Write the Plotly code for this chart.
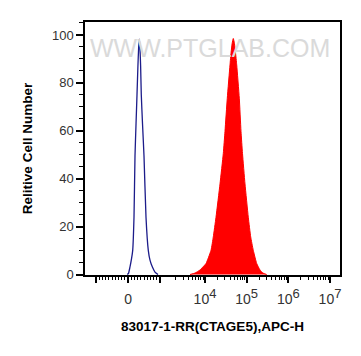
import math
import plotly.graph_objects as go

# Display axis: position in "decade units" (10^4 -> 4, 10^5 -> 5 ...), biexponential near zero
blue_x = [2.135, 2.164, 2.200, 2.236, 2.265, 2.296, 2.320, 2.345, 2.368, 2.390, 2.408, 2.423,
          2.438, 2.455, 2.471, 2.500, 2.536, 2.584, 2.639, 2.680, 2.735, 2.800, 2.872]
blue_y = [0, 0.5, 3.2, 6.5, 10.1, 23.9, 49.5, 63, 75, 87, 95, 98.2,
          95, 87, 75, 63, 49.5, 23.9, 10.1, 6, 3.2, 1, 0]

red_x = [3.640, 3.760, 3.880, 3.952, 4.024, 4.144, 4.199, 4.264, 4.360, 4.439, 4.480, 4.535,
         4.600, 4.625, 4.652, 4.679, 4.706, 4.733, 4.761, 4.823, 4.864, 4.900, 4.960, 5.039,
         5.097, 5.159, 5.241, 5.320, 5.392, 5.481]
red_y = [0, 0.6, 1.9, 3.2, 4.6, 10.1, 15.7, 23.9, 37.8, 50.5, 59.8, 73.6,
         87.5, 92.5, 96.5, 98.5, 96.5, 92.5, 87.5, 73.6, 59.8, 50.5, 37.8, 23.9,
         15.7, 10.1, 4.6, 1.9, 0.6, 0]

x_major_vals = [1.386, 2.153, 2.920, 4, 5, 6, 7]
x_major_exp = ["", "", "", "4", "5", "6", "7"]
x_major_text = ["", "0", ""] + [
    "10<sup><span style='font-size:13px'>%s</span></sup>" % e for e in x_major_exp[3:]]
lin_step = (2.920 - 2.153) / 10
x_minor_vals = [2.153 + k * lin_step for k in range(-10, 11) if k not in (-10, 0, 10)]
x_minor_vals += [d + math.log10(m) for d in (3, 4, 5, 6) for m in range(2, 10)]

y_major_vals = [0, 20, 40, 60, 80, 100]
y_minor_vals = [5, 10, 15, 25, 30, 35, 45, 50, 55, 65, 70, 75, 85, 90, 95, 105]

fig = go.Figure()
fig.add_trace(go.Scatter(x=red_x, y=red_y, mode="lines", fill="tozeroy",
                         line=dict(color="#ff0000", width=1, shape="spline", smoothing=0.5),
                         fillcolor="#ff0000", hoverinfo="skip"))
fig.add_trace(go.Scatter(x=blue_x, y=blue_y, mode="lines",
                         line=dict(color="#1c1c8a", width=1.3, shape="spline", smoothing=0.5),
                         hoverinfo="skip"))

fig.add_annotation(text="WWW.PTGLAB.COM", xref="paper", yref="paper", x=0.49, y=0.962,
                   showarrow=False, font=dict(family="Liberation Sans", size=25, color="#dadada"))

fig.update_layout(
    width=353, height=348,
    margin=dict(l=77, r=21, t=12, b=81),
    paper_bgcolor="white", plot_bgcolor="white",
    showlegend=False,
    font=dict(family="Liberation Sans, Arial", color="#333333"),
    xaxis=dict(range=[1.12, 7.24], tickmode="array", tickvals=x_major_vals, ticktext=x_major_text,
               ticks="outside", ticklen=6, tickwidth=1.5, tickcolor="black",
               showline=True, linecolor="black", linewidth=1.5, mirror=True,
               showgrid=False, zeroline=False, ticklabelstandoff=4,
               tickfont=dict(size=14, color="#333333"),
               minor=dict(tickmode="array", tickvals=x_minor_vals, ticks="outside", ticklen=3,
                          tickwidth=1, tickcolor="black", showgrid=False),
               title=dict(text="<b>83017-1-RR(CTAGE5),APC-H</b>", standoff=16,
                          font=dict(size=13.5, color="black"))),
    yaxis=dict(range=[-0.2, 105.4], tickmode="array", tickvals=y_major_vals,
               ticks="outside", ticklen=7, tickwidth=1.5, tickcolor="black",
               showline=True, linecolor="black", linewidth=1.5, mirror=True,
               showgrid=False, zeroline=False,
               tickfont=dict(size=13, color="#333333"),
               minor=dict(tickmode="array", tickvals=y_minor_vals, ticks="outside", ticklen=4,
                          tickwidth=1, tickcolor="black", showgrid=False),
               title=dict(text="<b>Relitive Cell Number</b>", standoff=16,
                          font=dict(size=13.5, color="black"))),
)

fig.write_html("out.html")
